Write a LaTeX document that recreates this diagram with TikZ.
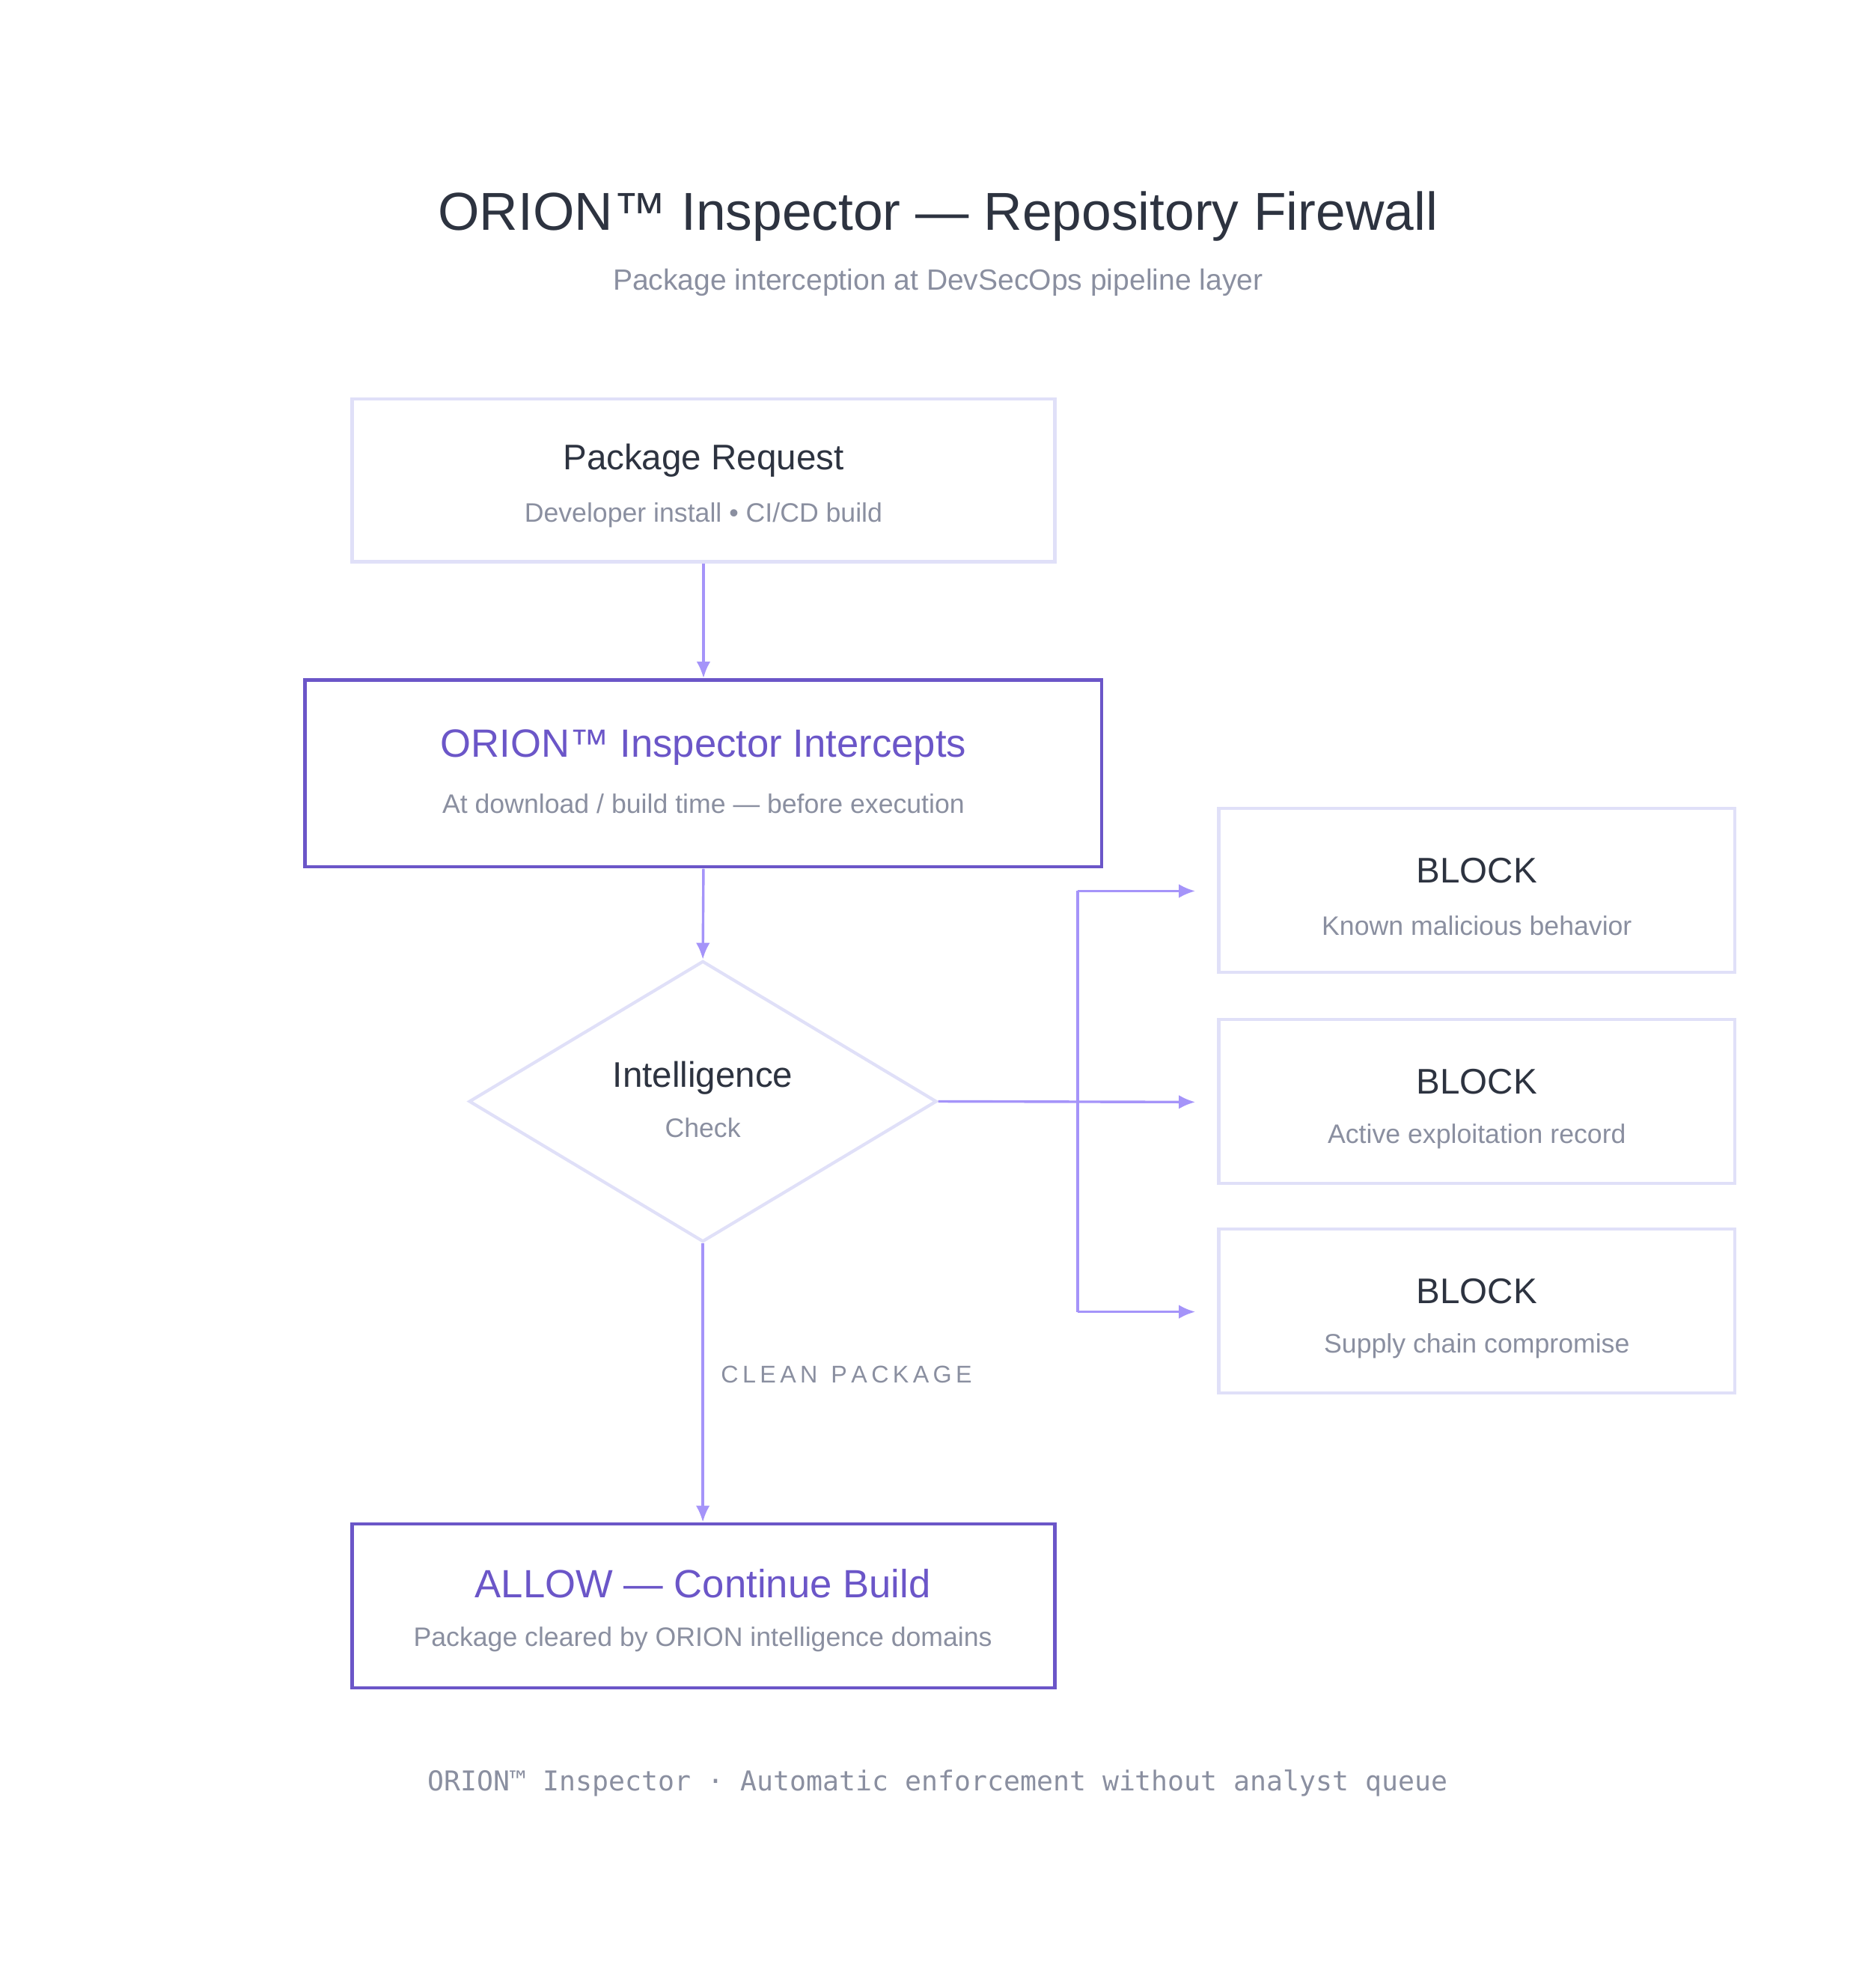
\documentclass[tikz,border=0pt]{standalone}
\usepackage{fontspec}
\setmainfont{Liberation Sans}
\setmonofont{DejaVu Sans Mono}
\usetikzlibrary{arrows.meta,shapes.geometric}
\definecolor{inkdark}{HTML}{2D3340}
\definecolor{inkgray}{HTML}{8A8FA0}
\definecolor{lineLight}{HTML}{E0E0F8}
\definecolor{arrowPurple}{HTML}{A594F9}
\definecolor{deepPurple}{HTML}{6B56C8}
\tikzset{every picture/.style={line width=2pt}}
\tikzset{
  box/.style={draw=lineLight,line width=2.5pt,inner sep=0pt},
  keybox/.style={draw=deepPurple,line width=2.5pt,inner sep=0pt},
  head/.style={text=inkdark,font=\fontsize{28}{32}\selectfont},
  keyhead/.style={text=deepPurple,font=\fontsize{31}{36}\selectfont},
  note/.style={text=inkgray,font=\fontsize{21}{25}\selectfont},
  flow/.style={draw=arrowPurple,line width=2pt,-{Latex[length=13pt,width=11pt]}},
}
\begin{document}
\begin{tikzpicture}[x=1pt,y=1pt,yscale=-1,xscale=1]
	\useasboundingbox (0,0) rectangle (1472,1564);

	% Title
	\node (title) [text=inkdark,font=\fontsize{42}{48}\selectfont] at (738,170) {ORION™ Inspector — Repository Firewall};
	\node (subtitle) [note,font=\fontsize{23}{27}\selectfont] at (738,222) {Package interception at DevSecOps pipeline layer};

	% Package request
	\draw [box] (277,314) rectangle (830,442);
	\node (requestbot) [inner sep=0pt] at (553.5,442) {};
	\node [head] at (553.5,362) {Package Request};
	\node [note] at (553.5,405) {Developer install • CI/CD build};

	% Inspector intercepts
	\draw [keybox] (240,535) rectangle (867,682);
	\node (intercepttop) [inner sep=0pt] at (553.5,535) {};
	\node (interceptbot) [inner sep=0pt] at (553.5,682) {};
	\node [keyhead] at (553.5,588) {ORION™ Inspector Intercepts};
	\node [note] at (553.5,632) {At download / build time — before execution};

	% Decision
	\node (check) [diamond,draw=lineLight,line width=2.5pt,minimum width=368pt,minimum height=221pt,inner sep=0pt,aspect=1.665] at (553,866.5) {};
	\node [head] at (553,848) {Intelligence};
	\node [note] at (553,887) {Check};

	% Block outcomes
	\foreach \n/\y/\txt in {blockA/701/Known malicious behavior,blockB/867/Active exploitation record,blockC/1032/Supply chain compromise}{
		\draw [box] (959,\y-65) rectangle (1365,\y+64);
		\node (\n) [inner sep=0pt] at (942,\y) {};
		\node [head] at (1162,\y-16) {BLOCK};
		\node [note] at (1162,\y+27) {\txt};
	}
	\coordinate (trunkTop) at (848,701);
	\coordinate (trunkBot) at (848,1032);

	% Allow
	\draw [keybox] (277,1199) rectangle (830,1328);
	\node (allowtop) [inner sep=0pt] at (553,1199) {};
	\node [keyhead] at (553,1246) {ALLOW — Continue Build};
	\node [note] at (553,1290) {Package cleared by ORION intelligence domains};

	% Connectors
	\draw [flow] (requestbot) -- (intercepttop);
	\draw [flow] (interceptbot) -- (check.north);
	\draw [flow] (check.east) -- (blockB);
	\draw [draw=arrowPurple] (trunkTop) -- (trunkBot);
	\draw [flow] (trunkTop) -- (blockA);
	\draw [flow] (trunkBot) -- (blockC);
	\draw [flow] (check.south) -- node [pos=0.47,xshift=10pt,text=inkgray,font=\fontsize{19}{22}\selectfont,anchor=west] {C\,L\,E\,A\,N\ \ P\,A\,C\,K\,A\,G\,E} (allowtop);

	% Footer
	\node (footer) [text=inkgray,font=\ttfamily\fontsize{21.5}{26}\selectfont] at (738,1403) {ORION™ Inspector · Automatic enforcement without analyst queue};
\end{tikzpicture}
\end{document}
